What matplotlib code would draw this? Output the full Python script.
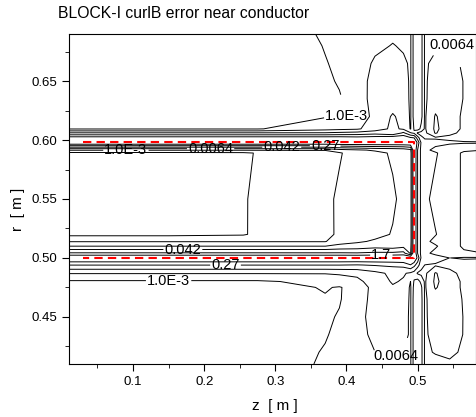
import numpy as np
import matplotlib.pyplot as plt
from matplotlib.ticker import MultipleLocator

plt.rcParams['font.family'] = ['Liberation Sans', 'DejaVu Sans']
plt.rcParams['contour.negative_linestyle'] = 'solid'

########## Data ##########
# grid nodes (z across, r up)
z_nodes = [0.01, 0.15, 0.255, 0.275, 0.37, 0.39, 0.415, 0.44, 0.465, 0.48,
           0.49, 0.495, 0.5, 0.505, 0.51, 0.525, 0.545, 0.565, 0.585]
r_nodes = [0.41, 0.42, 0.435, 0.45, 0.465, 0.475, 0.48, 0.487, 0.494, 0.5,
           0.504, 0.51, 0.514, 0.52, 0.55, 0.589, 0.5915, 0.598, 0.602, 0.606,
           0.6095, 0.62, 0.635, 0.65, 0.665, 0.68, 0.69]

# log10 of the curlB error, one list per z node, going up in r
err_log_by_z = [
    [-3.5, -3.5, -3.45, -3.4, -3.35, -3.3, -3.1, -2.15, -0.55, 1.2, -0.47, -2.2, -3.05, -4.0, -4.3, -4.0, -2.95, 1.2, 0.6, -1.3, -3.05, -3.4, -3.45, -3.5, -3.55, -3.6, -3.6],
    [-3.5, -3.5, -3.45, -3.4, -3.35, -3.3, -3.1, -2.15, -0.55, 1.2, -0.47, -2.2, -3.05, -4.0, -4.3, -4.0, -2.95, 1.2, 0.6, -1.3, -3.05, -3.4, -3.45, -3.5, -3.55, -3.6, -3.6],
    [-3.5, -3.5, -3.45, -3.4, -3.35, -3.3, -3.1, -2.15, -0.55, 1.2, -0.47, -2.2, -3.05, -3.9, -3.95, -3.95, -2.95, 1.2, 0.6, -1.3, -3.05, -3.4, -3.45, -3.5, -3.55, -3.6, -3.6],
    [-3.5, -3.5, -3.45, -3.4, -3.35, -3.3, -3.1, -2.15, -0.55, 1.2, -0.47, -2.2, -3.05, -3.6, -3.5, -3.75, -2.95, 1.2, 0.6, -1.3, -3.05, -3.4, -3.45, -3.5, -3.55, -3.6, -3.6],
    [-2.9, -2.95, -3.05, -3.1, -3.05, -2.95, -2.8, -2.15, -0.55, 1.2, -0.47, -2.2, -3.05, -3.4, -3.3, -3.4, -2.95, 1.2, 0.6, -1.3, -2.5, -3.05, -3.1, -3.1, -3.03, -2.97, -2.9],
    [-2.7, -2.75, -2.85, -2.95, -3.05, -3.05, -2.6, -2.1, -0.55, 1.2, -0.47, -2.0, -2.5, -2.75, -2.8, -3.1, -2.5, 1.2, 0.6, -1.2, -2.4, -3.1, -3.05, -2.95, -2.9, -2.85, -2.8],
    [-2.6, -2.6, -2.55, -2.5, -2.6, -2.7, -2.4, -2.0, -0.6, 1.2, -0.5, -1.9, -2.3, -2.6, -2.6, -2.5, -2.3, 1.2, 0.5, -1.1, -2.3, -2.85, -2.7, -2.65, -2.7, -2.75, -2.8],
    [-2.45, -2.2, -1.95, -1.85, -1.9, -1.9, -1.8, -1.6, -0.5, 1.2, -0.4, -1.7, -2.1, -2.4, -2.45, -2.4, -2.1, 1.2, 0.6, -0.9, -1.8, -1.9, -1.8, -1.85, -2.05, -2.4, -2.5],
    [-2.3, -2.1, -1.9, -1.8, -1.7, -1.45, -1.3, -1.2, -0.4, 1.2, -0.4, -1.8, -2.1, -2.15, -2.3, -2.1, -2.0, 1.2, 0.8, -1.3, -1.2, -1.3, -1.75, -1.8, -1.95, -2.15, -2.35],
    [-2.45, -2.2, -1.95, -1.95, -1.85, -1.7, -1.45, -1.3, -0.3, 1.2, -0.3, -1.6, -2.0, -2.05, -2.0, -2.1, -1.9, 1.2, 0.8, -0.4, -1.5, -1.6, -1.85, -1.9, -2.05, -2.3, -2.45],
    [-2.3, -2.3, -2.3, -2.3, -2.3, -2.3, -2.2, -1.5, 0.2, 1.2, -1.5, -1.7, -1.8, -1.8, -1.8, -1.8, -1.6, 1.2, 0.3, -1.3, -2.25, -2.3, -2.3, -2.3, -2.3, -2.3, -2.3],
    [-1.0, -1.0, -1.0, -1.0, -1.0, -1.1, -1.3, -1.7, -0.3, 1.2, 1.2, 1.2, 1.2, 1.2, 1.2, 1.2, 1.2, 1.2, 0.2, -1.5, -1.3, -1.0, -1.0, -1.0, -1.0, -1.0, -1.0],
    [-0.8, -0.8, -0.8, -0.8, -0.8, -0.8, -1.0, -2.3, -1.0, 0.0, -0.6, -0.6, -0.6, -0.6, -0.6, -0.6, -0.6, 0.0, -1.0, -2.3, -1.0, -0.8, -0.8, -0.8, -0.8, -0.8, -0.8],
    [-1.1, -1.1, -1.1, -1.1, -1.1, -1.2, -1.6, -2.4, -1.9, -1.5, -1.6, -1.6, -1.6, -1.6, -1.6, -1.6, -1.6, -1.5, -2.0, -2.5, -1.6, -1.1, -1.1, -1.1, -1.1, -1.1, -1.1],
    [-2.3, -2.3, -2.3, -2.3, -2.3, -2.3, -2.3, -2.4, -2.2, -1.9, -2.0, -2.0, -2.0, -2.0, -2.0, -2.0, -2.0, -1.9, -2.3, -2.4, -2.3, -2.3, -2.3, -2.3, -2.3, -2.3, -2.3],
    [-2.4, -2.15, -1.95, -1.85, -1.8, -1.3, -1.2, -1.3, -2.3, -1.8, -2.4, -2.1, -2.4, -2.15, -2.45, -2.1, -2.4, -1.95, -2.3, -1.3, -1.2, -1.3, -1.8, -1.85, -2.0, -2.3, -2.45],
    [-2.3, -2.05, -1.9, -1.85, -1.85, -1.9, -1.9, -2.0, -2.4, -2.2, -2.7, -2.7, -2.7, -2.7, -2.7, -2.7, -2.7, -2.05, -2.4, -2.0, -1.9, -1.9, -1.85, -1.85, -1.95, -2.15, -2.35],
    [-2.35, -2.3, -2.22, -2.22, -2.25, -2.3, -2.3, -2.4, -2.6, -2.1, -2.9, -3.1, -3.1, -3.1, -3.1, -3.1, -2.9, -2.1, -2.6, -2.4, -2.3, -2.3, -2.22, -2.22, -2.3, -2.4, -2.45],
    [-2.5, -2.5, -2.5, -2.5, -2.5, -2.5, -2.5, -2.6, -2.8, -2.1, -2.95, -3.3, -3.3, -3.3, -3.3, -3.3, -2.95, -2.1, -2.8, -2.6, -2.5, -2.5, -2.5, -2.5, -2.5, -2.5, -2.5],
]

levels = [1.55e-4, 1.0e-3, 6.4e-3, 0.042, 0.27, 1.7]
level_text = ['1.6E-4', '1.0E-3', '0.0064', '0.042', '0.27', '1.7']

# contour labels shown on the chart
label_text = ['1.0E-3', '1.0E-3', '0.0064', '0.042', '0.27',
              '0.042', '0.27', '1.0E-3', '1.7', '0.0064', '0.0064']
label_z = [0.409, 0.09, 0.209, 0.309, 0.37, 0.17, 0.23, 0.15, 0.449, 0.548, 0.468]
label_r = [0.6127, 0.5915, 0.593, 0.5935, 0.595, 0.508, 0.4938, 0.481, 0.5023, 0.6805, 0.4175]

# conductor outline (red dashed)
conductor_z = [0.03, 0.495, 0.495, 0.03]
conductor_r = [0.598, 0.598, 0.5, 0.5]

############ Plot ############
fig = plt.figure(figsize=(4.77, 4.17), dpi=100)
ax = fig.add_axes([69/477, 1-364/417, (476-69)/477, (364-34)/417])

Z = np.array(err_log_by_z).T

# one contour set per level so each label lands on its own line
cs_by_level = {}
for lv, t in zip(levels, level_text):
    cs_by_level[t] = ax.contour(z_nodes, r_nodes, Z, levels=[np.log10(lv)],
                                colors='black', linewidths=0.7, linestyles='solid')

for t, zz, rr in zip(label_text, label_z, label_r):
    txts = ax.clabel(cs_by_level[t], manual=[(zz, rr)], fmt=lambda v, t=t: t, fontsize=10.5,
                     inline=True, inline_spacing=1, colors='black')
    for tx in txts:
        tx.set_rotation(0)

ax.plot(conductor_z, conductor_r, color='red', linestyle=(0, (4, 2.5)), linewidth=1.5)

ax.set_xlim(0.01, 0.582)
ax.set_ylim(0.41, 0.69)
ax.xaxis.set_minor_locator(MultipleLocator(0.05))
ax.yaxis.set_minor_locator(MultipleLocator(0.025))
ax.set_xticks([0.1, 0.2, 0.3, 0.4, 0.5])
ax.set_xticklabels(['0.1', '0.2', '0.3', '0.4', '0.5'])
ax.set_yticks([0.45, 0.5, 0.55, 0.6, 0.65])
ax.set_yticklabels(['0.45', '0.50', '0.55', '0.60', '0.65'])
ax.tick_params(which='both', direction='out', labelsize=9.5, top=False, right=False)
ax.tick_params(which='major', length=5)
ax.tick_params(which='minor', length=3)

fig.text(58/477, 1-14/417, 'BLOCK-I curlB error near conductor', fontsize=11.3, va='center', ha='left')
fig.text(18/477, 1-209/417, 'r  [ m ]', fontsize=11, rotation=90, va='center', ha='center')
fig.text(275/477, 1-406/417, 'z  [ m ]', fontsize=11, va='center', ha='center')

fig.savefig('out.png', dpi=100)
